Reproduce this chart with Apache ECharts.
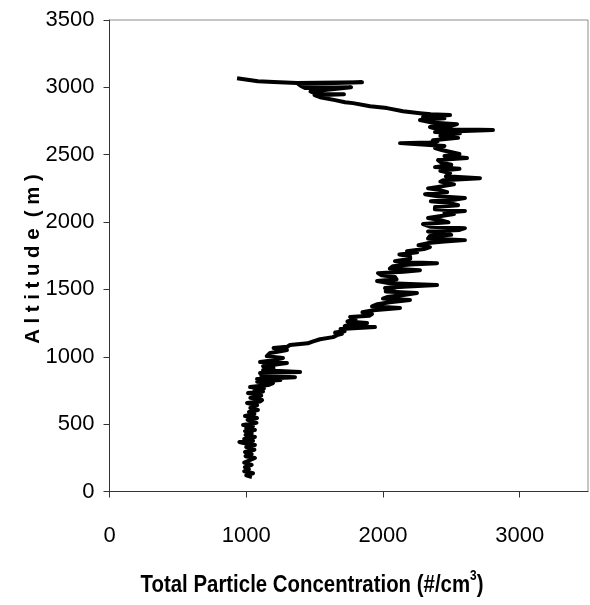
<!DOCTYPE html>
<html>
<head>
<meta charset="utf-8">
<script src="https://cdn.jsdelivr.net/npm/echarts@6/dist/echarts.min.js"></script>
<style>html,body{margin:0;padding:0;background:#fff}#c{width:590px;height:605px}</style>
</head>
<body>
<div id="c"></div>
<script>
// Altitude (m), from the lowest reading upward
var altitude = [
 108,120,135,150,165,180,197,215,234,249,262,278,293,310,330,345,360,367,375,390,
 405,420,434,448,456,470,485,493,510,531,545,560,575,590,605,620,640,657,668,679,
 695,712,731,742,753,765,775,790,805,815,827,835,849,860,870,879,887,900,916,930,
 953,961,975,991,1005,1028,1040,1050,1065,1075,1087,1100,1115,1130,1146,1161,1170,1180,1190,1206,
 1221,1228,1235,1250,1262,1280,1295,1305,1317,1330,1345,1362,1375,1390,1405,1421,1432,1443,1458,1473,
 1485,1495,1510,1520,1532,1545,1562,1575,1592,1605,1621,1632,1643,1655,1673,1685,1695,1703,1710,1728,
 1747,1760,1775,1784,1800,1814,1828,1844,1855,1866,1878,1896,1905,1918,1930,1942,1955,1965,1985,1998,
 2015,2030,2044,2060,2070,2082,2095,2111,2125,2141,2155,2165,2178,2192,2207,2222,2237,2250,2267,2280,
 2300,2311,2326,2340,2363,2380,2395,2408,2425,2440,2460,2475,2490,2505,2519,2535,2549,2565,2586,2590,
 2600,2608,2625,2640,2660,2668,2683,2690,2705,2715,2727,2740,2757,2770,2779,2794,2800,2808,2823,2846,
 2860,2883,2890,2905,2927,2942,2949,2950,2970,2979,3001,2996,3010,3025,3038,3032,3040,3046,3068
];
// Total particle concentration (#/cm3) at each altitude above
var concentration = [
 1042,1000,1050,985,1020,990,1040,985,1030,1064,995,1040,991,1060,1000,1064,980,950,1050,985,
 1064,995,1040,991,1064,1000,1050,977,1075,1010,1079,991,1060,1020,1086,1030,1080,1006,1100,1116,
 1030,1110,1013,1123,1060,1130,1028,1160,1196,1080,1250,1079,1357,1110,1200,1101,1394,1123,1200,1123,
 1298,1101,1200,1269,1150,1174,1250,1298,1200,1300,1320,1450,1490,1540,1635,1664,1700,1650,1720,1690,
 1942,1720,1740,1884,1740,1800,1760,1900,1920,1850,1930,2125,1920,1960,2050,2198,2000,2030,2150,2249,
 2020,2080,2015,2150,2396,2050,1957,2100,2088,1990,1964,2150,2271,2050,2074,2200,2396,2120,2088,2200,
 2198,2120,2250,2176,2300,2344,2260,2330,2450,2600,2330,2344,2500,2454,2330,2560,2600,2350,2293,2480,
 2418,2330,2323,2520,2450,2600,2380,2381,2550,2491,2350,2520,2600,2400,2308,2470,2418,2330,2440,2520,
 2420,2440,2710,2460,2491,2420,2560,2381,2500,2430,2403,2615,2450,2560,2549,2430,2381,2450,2125,2344,
 2400,2366,2550,2420,2564,2381,2805,2400,2344,2500,2542,2350,2271,2450,2293,2491,2350,2271,2147,2030,
 1906,1781,1723,1650,1540,1500,1715,1520,1470,1467,1767,1430,1400,1380,1847,1372,1200,1086,933
];
var xTicks = [0, 1000, 2000, 3000];
var yTicks = [0, 500, 1000, 1500, 2000, 2500, 3000, 3500];

var pts = concentration.map(function (v, i) { return [v, altitude[i]]; });
var sans = '"Liberation Sans",Arial,sans-serif';
var plain = function (v) { return String(v); };

var chart = echarts.init(document.getElementById('c'), null, {renderer: 'canvas'});
chart.setOption({
  animation: false,
  backgroundColor: '#fff',
  grid: {left: 109.5, right: 2, top: 20, bottom: 113.5, show: true, borderColor: '#8c8c8c', borderWidth: 1, backgroundColor: 'transparent'},
  xAxis: {
    type: 'value', min: 0, max: 3500, interval: 1000,
    axisLine: {show: true, lineStyle: {color: '#333', width: 1}},
    axisTick: {show: true, inside: false, length: 6, lineStyle: {color: '#333'}, customValues: xTicks},
    splitLine: {show: false},
    axisLabel: {customValues: xTicks, formatter: plain, margin: 33, color: '#000', fontSize: 22, fontFamily: sans}
  },
  yAxis: {
    type: 'value', min: 0, max: 3500, interval: 500,
    axisLine: {show: true, lineStyle: {color: '#333', width: 1}},
    axisTick: {show: true, inside: false, length: 6, lineStyle: {color: '#333'}, customValues: yTicks},
    splitLine: {show: false},
    axisLabel: {customValues: yTicks, formatter: plain, margin: 15, color: '#000', fontSize: 22, fontFamily: sans}
  },
  graphic: [
    {type: 'text', x: 33, y: 259, rotation: Math.PI / 2, scaleX: 0.97,
     style: {text: 'A l t i t u d e  ( m )', fill: '#000', font: 'bold 21px "Liberation Sans",Arial,sans-serif', align: 'center', verticalAlign: 'middle'}},
    {type: 'text', x: 312, y: 585, scaleX: 0.85,
     style: {text: '{a|Total Particle Concentration (#/cm}{s|3}{a|)}', align: 'center', verticalAlign: 'middle',
       rich: {a: {fontSize: 24, fontWeight: 'bold', fontFamily: sans, color: '#000'},
              s: {fontSize: 14, fontWeight: 'bold', fontFamily: sans, color: '#000', verticalAlign: 'top', padding: [0, 0, 17, 0]}}}}
  ],
  series: [{
    type: 'line', data: pts, showSymbol: false, symbol: 'none',
    lineStyle: {color: '#000', width: 4, join: 'round'}, z: 3
  }]
});
</script>
</body>
</html>
